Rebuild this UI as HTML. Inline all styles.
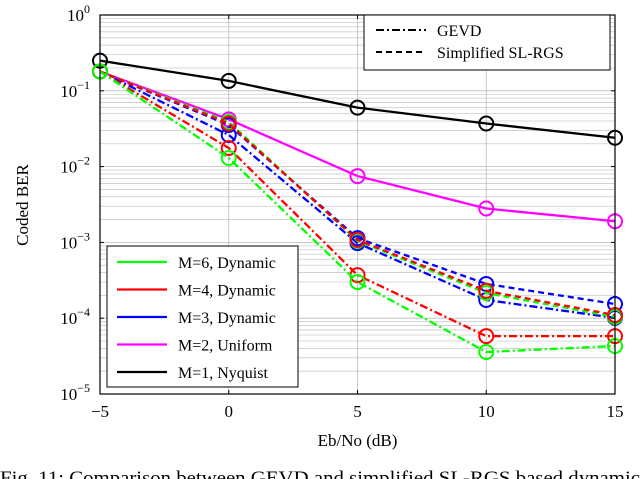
<!DOCTYPE html>
<html><head><meta charset="utf-8"><style>
body{margin:0;background:#fff;width:640px;height:479px;overflow:hidden;font-family:"Liberation Serif",serif;}
svg{display:block}
</style></head><body>
<svg id="c" width="640" height="479" xmlns="http://www.w3.org/2000/svg" font-family="Liberation Serif, serif"></svg>
<script>
const xVals=[-5,0,5,10,15];
const m1Nyquist=[0.25,0.135,0.06,0.037,0.024];
const m2Uniform=[0.18,0.042,0.0075,0.0028,0.0019];
const m3Gevd=[0.18,0.0261,0.00098,0.000174,0.000101];
const m3Simpl=[0.18,0.0354,0.00114,0.000283,0.000154];
const m4Gevd=[0.18,0.0176,0.00037,0.000058,0.000058];
const m4Simpl=[0.18,0.037,0.00108,0.00023,0.00011];
const m6Gevd=[0.18,0.013,0.0003,0.0000358,0.000043];
const m6Simpl=[0.18,0.0388,0.00105,0.000215,0.000104];
const xTicks=[-5,0,5,10,15];
const yTickExp=[0,-1,-2,-3,-4,-5];

const L=100,R=615,T=15,B=394;
const sx=v=>L+(v+5)/20*(R-L);
const sy=v=>T+(-Math.log10(v))/5*(B-T);
const svg=document.getElementById('c');
const NS='http://www.w3.org/2000/svg';
function el(tag,at,parent){const e=document.createElementNS(NS,tag);for(const k in at)e.setAttribute(k,at[k]);(parent||svg).appendChild(e);return e;}

// grid
const grid=el('g',{});


for(let d=0;d<5;d++)for(let k=1;k<=9;k++){const y=sy(Math.pow(10,-d-1)*k);if(k>1)el('line',{x1:L,x2:R,y1:y,y2:y,stroke:'#ccc','stroke-width':0.8},grid);}
yTickExp.forEach(e=>{const y=sy(Math.pow(10,e));el('line',{x1:L,x2:R,y1:y,y2:y,stroke:'#bbb','stroke-width':0.8},grid);});
xTicks.forEach(v=>{el('line',{x1:sx(v),x2:sx(v),y1:T,y2:B,stroke:'#bbb','stroke-width':0.8},grid);});

// series
const series=[
 {n:'m1-nyquist',d:m1Nyquist,c:'#000',dash:''},
 {n:'m2-uniform',d:m2Uniform,c:'#f0f',dash:''},
 {n:'m3-gevd',d:m3Gevd,c:'#00f',dash:'8 3 2 3'},
 {n:'m3-simplified',d:m3Simpl,c:'#00f',dash:'6 4'},
 {n:'m6-simplified',d:m6Simpl,c:'#0f0',dash:'6 4'},
 {n:'m4-simplified',d:m4Simpl,c:'#f00',dash:'6 4'},
 {n:'m4-gevd',d:m4Gevd,c:'#f00',dash:'8 3 2 3'},
 {n:'m6-gevd',d:m6Gevd,c:'#0f0',dash:'8 3 2 3'},
];
series.forEach(s=>{
 const g=el('g',{});
 
 
 const pts=s.d.map((v,i)=>sx(xVals[i])+','+sy(v)).join(' ');
 const pl=el('polyline',{points:pts,fill:'none',stroke:s.c,'stroke-width':2.3,'stroke-dasharray':s.dash},g);
 
 
 s.d.forEach((v,i)=>{const c=el('circle',{cx:sx(xVals[i]),cy:sy(v),r:7,fill:'none',stroke:s.c,'stroke-width':2},g);
  
  });
});

// frame & ticks
el('rect',{x:L,y:T,width:R-L,height:B-T,fill:'none',stroke:'#000','stroke-width':1.2});
xTicks.forEach(v=>{const x=sx(v);el('line',{x1:x,x2:x,y1:B,y2:B-4,stroke:'#000'});el('line',{x1:x,x2:x,y1:T,y2:T+4,stroke:'#000'});
 const t=el('text',{x:x,y:B+23,'text-anchor':'middle','font-size':17});t.textContent=(v<0?'\u2212'+(-v):v);
 
 });
yTickExp.forEach(e=>{const y=sy(Math.pow(10,e));el('line',{x1:L,x2:L+4,y1:y,y2:y,stroke:'#000'});el('line',{x1:R,x2:R-4,y1:y,y2:y,stroke:'#000'});
 const t=el('text',{x:L-10,y:y+6,'text-anchor':'end','font-size':17});t.innerHTML='10<tspan dy="-8" font-size="12">'+(e<0?'\u2212'+(-e):e)+'</tspan>';
 
 });

const xl=el('text',{x:(L+R)/2,y:446,'text-anchor':'middle','font-size':17});xl.textContent='Eb/No (dB)';


const yl=el('text',{x:0,y:0,'text-anchor':'middle','font-size':17,transform:'translate(28,205) rotate(-90)'});yl.textContent='Coded BER';



// legend 1
const lg1=el('g',{});


el('rect',{x:364,y:15,width:246,height:55,fill:'#fff',stroke:'#000'},lg1);
[['GEVD','8 3 2 3',35],['Simplified  SL-RGS','6 4',57]].forEach(a=>{
 el('line',{x1:376,x2:426,y1:a[2]-5,y2:a[2]-5,stroke:'#000','stroke-width':2,'stroke-dasharray':a[1]},lg1);
 const t=el('text',{x:437,y:a[2]+1,'font-size':16,'xml:space':'preserve'},lg1);t.textContent=a[0];
 
 });

// legend 2
const lg2=el('g',{});


el('rect',{x:107,y:246,width:191,height:141,fill:'#fff',stroke:'#000'},lg2);
[['M=6, Dynamic','#0f0'],['M=4, Dynamic','#f00'],['M=3, Dynamic','#00f'],['M=2, Uniform','#f0f'],['M=1, Nyquist','#000']].forEach((a,i)=>{
 const y=267+i*27.5;
 el('line',{x1:117,x2:167,y1:y-5,y2:y-5,stroke:a[1],'stroke-width':2.2},lg2);
 const t=el('text',{x:178,y:y+1,'font-size':16},lg2);t.textContent=a[0];
 
 });

const cap=el('text',{x:0,y:484,'font-size':19,textLength:640,lengthAdjust:'spacingAndGlyphs'});cap.textContent='Fig. 11: Comparison between GEVD and simplified SL-RGS based dynamic';


</script>
</body></html>
